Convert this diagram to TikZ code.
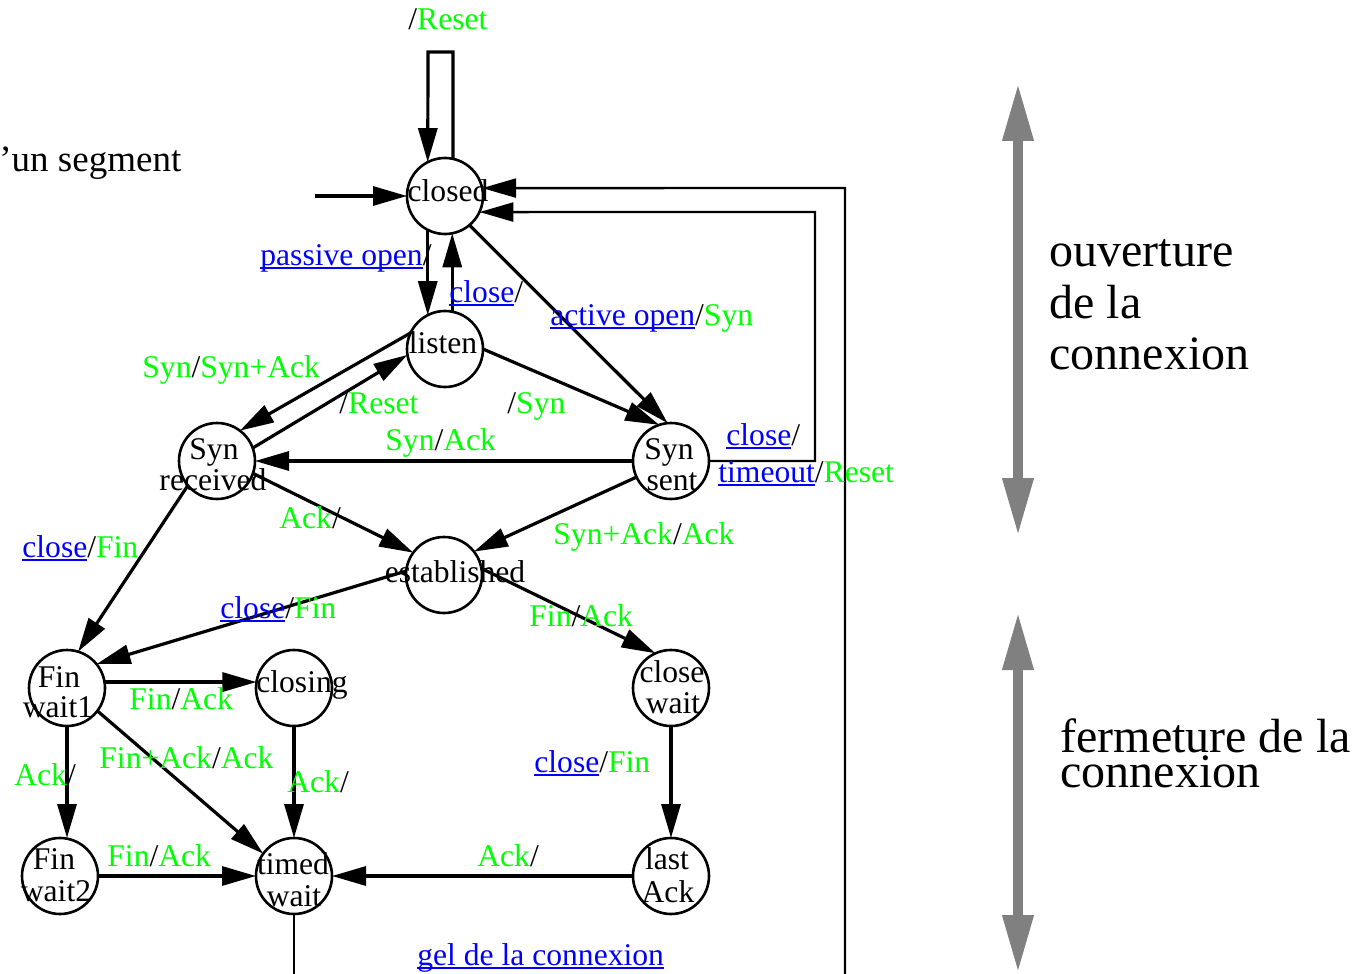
\documentclass[tikz,border=0pt]{standalone}
\usepackage{fontspec}
\setmainfont{Liberation Serif}
\usetikzlibrary{arrows.meta}
\definecolor{lgreen}{RGB}{0,255,0}
\definecolor{lblue}{RGB}{0,0,255}
\definecolor{bandgray}{RGB}{128,128,128}
\newsavebox\lkbox
\newcommand\lk[1]{\sbox\lkbox{\color{lblue}#1}{\color{lblue}\rlap{\rule[-1.8pt]{\wd\lkbox}{0.75pt}}\usebox\lkbox}}
\newcommand\gr[1]{\textcolor{lgreen}{#1}}
\begin{document}
\begin{tikzpicture}[x=0.5pt,y=-0.5pt,
  st/.style={circle,draw,line width=1.3pt,minimum size=38pt,inner sep=0pt,outer sep=0pt},
  ntxt/.style={anchor=base,inner sep=0pt,font=\fontsize{15.8pt}{17pt}\selectfont},
  lbl/.style={anchor=base west,inner sep=0pt,font=\fontsize{15.8pt}{17pt}\selectfont},
  arr/.style={line width=1.6pt,-{Triangle[length=17pt,width=9.5pt]}},
  plainline/.style={line width=1.4pt},
  loopline/.style={line width=1.2pt,-{Triangle[length=17pt,width=9.5pt]}},
  band/.style={draw=bandgray,line width=5pt,{Triangle[length=29pt,width=14.5pt]}-{Triangle[length=29pt,width=14.5pt]}},
  big/.style={anchor=base west,inner sep=0pt,font=\fontsize{24pt}{25.5pt}\selectfont}
]
\useasboundingbox (0,0) rectangle (1372,974);

% states
\node[st] (closed) at (445,196) {};
\node[st] (listen) at (445,349) {};
\node[st] (synrec) at (217,461) {};
\node[st] (synsent) at (671,461) {};
\node[st] (est) at (444,575) {};
\node[st] (cw) at (671,688) {};
\node[st] (fw1) at (67,688) {};
\node[st] (closing) at (294,688) {};
\node[st] (fw2) at (60,876) {};
\node[st] (timed) at (294,876) {};
\node[st] (last) at (671,876) {};

% state texts
\node[ntxt] (tclosed) at (448,202) {closed};
\node[ntxt] (tlisten) at (443,353) {listen};
\node[ntxt] (tsynrec1) at (214,459) {Syn};
\node[ntxt] (tsynrec2) at (213,490) {received};
\node[ntxt] (tsynsent1) at (669,459) {Syn};
\node[ntxt] (tsynsent2) at (672,490) {sent};
\node[ntxt] (test) at (455,582) {established};
\node[ntxt] (tcw1) at (672,682) {close};
\node[ntxt] (tcw2) at (673,713) {wait};
\node[ntxt] (tfw11) at (59,687) {Fin};
\node[ntxt] (tfw12) at (58,717) {wait1};
\node[ntxt] (tclosing) at (302,692) {closing};
\node[ntxt] (tfw21) at (54,869) {Fin};
\node[ntxt] (tfw22) at (56,901) {wait2};
\node[ntxt] (ttimed1) at (293,874) {timed};
\node[ntxt] (ttimed2) at (294,906) {wait};
\node[ntxt] (tlast1) at (667,869) {last};
\node[ntxt] (tlast2) at (668,902) {Ack};

% connectors
\coordinate (rl) at (428,52);
\draw[arr] (closed.78) |- (rl) -- (closed.117);
\coordinate (init) at (315,196);
\draw[arr] (init) -- (closed.west);
\draw[arr] (closed.-117) -- (listen.117);
\draw[arr] (listen.79) -- (closed.-79);
\draw[arr] (closed.-50) -- (synsent.95);
\draw[arr] (listen.155) -- (synrec.53);
\draw[arr] (synrec.20) -- (listen.189);
\draw[arr] (listen.east) -- (synsent.108);
\draw[arr] (synsent.west) -- (synrec.east);
\coordinate (tr1) at (815,212);
\draw[loopline] (synsent.east) -| (tr1) -- (closed.-25);
\coordinate (gelA) at (294,974);
\coordinate (gelB) at (845,974);
\coordinate (gelC) at (845,188);
\draw[plainline] (timed.south) -- (gelA);
\draw[loopline] (gelB) -- (gelC) -- (closed.12);
\draw[arr] (synrec.-19) -- (est.144);
\draw[arr] (synsent.205) -- (est.38);
\draw[arr] (synrec.220) -- (fw1.73);
\draw[arr] (est.174) -- (fw1.39);
\draw[arr] (est.10) -- (cw.114);
\draw[arr] (fw1.9) -- (closing.171);
\draw[arr] (fw1.south) -- (fw1.south |- fw2.north);
\draw[arr] (fw1.-37) -- (timed.144);
\draw[arr] (closing.south) -- (timed.north);
\draw[arr] (fw2.east) -- (timed.west);
\draw[arr] (last.west) -- (timed.east);
\draw[arr] (cw.south) -- (last.north);

% labels
\node[lbl] (l1) at (408,30) {/\gr{Reset}};
\node[lbl] (l2) at (260,265) {\lk{passive open}/};
\node[lbl] (l3) at (449,302) {\lk{close}/};
\node[lbl] (l4) at (550,325) {\lk{active open}/\gr{Syn}};
\node[lbl] (l5) at (142,377) {\gr{Syn}/\gr{Syn+Ack}};
\node[lbl] (l6) at (339,413) {/\gr{Reset}};
\node[lbl] (l7) at (507,413) {/\gr{Syn}};
\node[lbl] (l8) at (385,450) {\gr{Syn}/\gr{Ack}};
\node[lbl] (l9) at (726,445) {\lk{close}/};
\node[lbl] (l10) at (718,482) {\lk{timeout}/\gr{Reset}};
\node[lbl] (l11) at (279,528) {\gr{Ack}/};
\node[lbl] (l12) at (553,544) {\gr{Syn+Ack}/\gr{Ack}};
\node[lbl] (l13) at (22,557) {\lk{close}/\gr{Fin}};
\node[lbl] (l14) at (220,618) {\lk{close}/\gr{Fin}};
\node[lbl] (l15) at (529,626) {\gr{Fin}/\gr{Ack}};
\node[lbl] (l16) at (129,709) {\gr{Fin}/\gr{Ack}};
\node[lbl] (l17) at (99,768) {\gr{Fin+Ack}/\gr{Ack}};
\node[lbl] (l18) at (14,785) {\gr{Ack}/};
\node[lbl] (l19) at (287,792) {\gr{Ack}/};
\node[lbl] (l20) at (534,772) {\lk{close}/\gr{Fin}};
\node[lbl] (l21) at (107,866) {\gr{Fin}/\gr{Ack}};
\node[lbl] (l22) at (477,866) {\gr{Ack}/};
\node[lbl] (l23) at (417,965) {\lk{gel de la connexion}};
\node[anchor=base west,inner sep=0pt,font=\fontsize{18.5pt}{20pt}\selectfont] (seg) at (-1,172) {'un segment};

% phase bands
\coordinate (b1t) at (1018,83);
\coordinate (b1b) at (1018,536);
\draw[band] (b1t) -- (b1b);
\coordinate (b2t) at (1018,612);
\coordinate (b2b) at (1018,973);
\draw[band] (b2t) -- (b2b);
\node[big] (o1) at (1049,266) {ouverture};
\node[big] (o2) at (1049,318) {de la};
\node[big] (o3) at (1049,369) {connexion};
\node[big] (f1) at (1060,752) {fermeture de la};
\node[big] (f2) at (1060,787) {connexion};
\end{tikzpicture}
\end{document}
